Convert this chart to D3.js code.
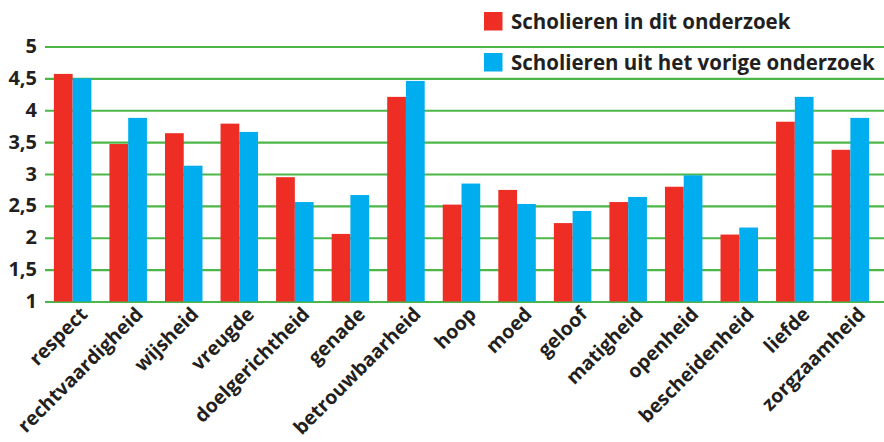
<!DOCTYPE html>
<html>
<head>
<meta charset="utf-8">
<script src="https://cdn.jsdelivr.net/npm/d3@7"></script>
<style>
    body { margin: 0; background: #fff; }
    text { font-family: "Open Sans", sans-serif; fill: #231f20; }
</style>
</head>
<body>
<div id="chart"></div>
<script>
const categories = ["respect", "rechtvaardigheid", "wijsheid", "vreugde", "doelgerichtheid",
    "genade", "betrouwbaarheid", "hoop", "moed", "geloof", "matigheid", "openheid",
    "bescheidenheid", "liefde", "zorgzaamheid"];
const seriesNames = ["Scholieren in dit onderzoek", "Scholieren uit het vorige onderzoek"];
const ditOnderzoek = [4.57, 3.47, 3.64, 3.79, 2.95, 2.06, 4.21, 2.52, 2.75, 2.23, 2.56, 2.80, 2.05, 3.82, 3.38];
const vorigOnderzoek = [4.50, 3.88, 3.13, 3.66, 2.56, 2.67, 4.46, 2.85, 2.53, 2.42, 2.64, 2.98, 2.16, 4.21, 3.88];
const yTicks = [1, 1.5, 2, 2.5, 3, 3.5, 4, 4.5, 5];

const colors = ["#ee2e24", "#00aeef"];
const width = 884, height = 442;

const svg = d3.select("#chart").append("svg")
    .attr("width", width)
    .attr("height", height);

const x = d3.scaleBand()
    .domain(categories)
    .range([45, 878])
    .paddingInner(0.325)
    .paddingOuter(0.16);

const xSub = d3.scaleBand()
    .domain([0, 1])
    .range([0, x.bandwidth()]);

const y = d3.scaleLinear()
    .domain([1, 5])
    .range([301.5, 46.5]);

// gridlines + tick labels
const yAxis = svg.append("g")
    .attr("transform", "translate(45,0)")
    .call(d3.axisLeft(y)
        .tickValues(yTicks)
        .tickFormat(d => String(d).replace(".", ","))
        .tickSizeInner(-(width - 45))
        .tickSizeOuter(0)
        .tickPadding(8));
yAxis.select(".domain").remove();
yAxis.selectAll(".tick line")
    .attr("stroke", "#4cb748")
    .attr("stroke-width", 2.2);
yAxis.selectAll(".tick text")
    .attr("font-size", 20)
    .attr("font-weight", 700)
    .attr("dy", "0.3em");

// bars
const groups = svg.append("g")
    .selectAll("g")
    .data(categories)
    .enter().append("g")
    .attr("transform", d => `translate(${x(d)},0)`);

groups.selectAll("rect")
    .data((d, i) => [ditOnderzoek[i], vorigOnderzoek[i]])
    .enter().append("rect")
    .attr("x", (d, j) => xSub(j))
    .attr("width", xSub.bandwidth())
    .attr("y", d => y(d))
    .attr("height", d => y(1) - y(d))
    .attr("fill", (d, j) => colors[j]);

// category labels (kept just inside the bottom edge)
const xAxis = svg.append("g")
    .attr("transform", `translate(0,${y(1)})`)
    .call(d3.axisBottom(x).tickSize(0).tickPadding(0));
xAxis.select(".domain").remove();
xAxis.selectAll(".tick text")
    .attr("font-size", 19.5)
    .attr("font-weight", 700)
    .attr("text-anchor", "end")
    .attr("dy", null)
    .attr("y", 0)
    .attr("transform", "translate(16,14) rotate(-45)");

// legend
const legend = svg.append("g")
    .selectAll("g")
    .data(seriesNames)
    .enter().append("g")
    .attr("transform", (d, i) => `translate(484,${12 + i * 41})`);

legend.append("rect")
    .attr("width", 18.5)
    .attr("height", 18.5)
    .attr("fill", (d, i) => colors[i]);

legend.append("text")
    .attr("x", 27)
    .attr("y", 17)
    .attr("font-size", 20.5)
    .attr("font-weight", 700)
    .text(d => d);
</script>
</body>
</html>
